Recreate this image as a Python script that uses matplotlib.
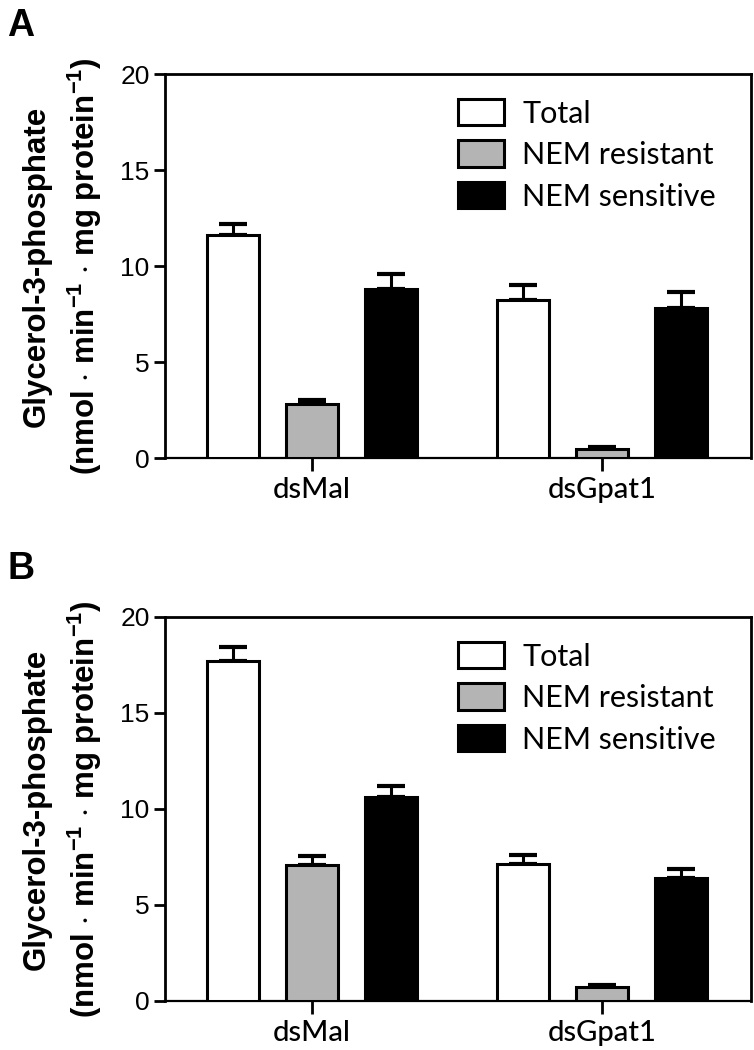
import matplotlib
matplotlib.use("Agg")
import matplotlib.pyplot as plt
import numpy as np

# datos
grupos = ['dsMal', 'dsGpat1']
series = ['Total', 'NEM resistant', 'NEM sensitive']
colores = ['white', '#b4b4b4', 'black']

# panel A
valA = [[11.6, 8.25],
        [2.8, 0.45],
        [8.8, 7.8]]
errA = [[0.6, 0.75],
        [0.2, 0.1],
        [0.8, 0.85]]
# panel B
valB = [[17.7, 7.15],
        [7.1, 0.75],
        [10.6, 6.4]]
errB = [[0.75, 0.45],
        [0.45, 0.08],
        [0.6, 0.45]]

yticks = [0, 5, 10, 15, 20]

plt.rcParams['font.family'] = 'Liberation Sans'
plt.rcParams['mathtext.default'] = 'regular'

W, H = 754, 1050
fig = plt.figure(figsize=(W/100, H/100), dpi=100)


def panel(top, bottom, vals, errs, letra):
    left, right = 165, 751
    ax = fig.add_axes([left/W, 1-bottom/H, (right-left)/W, (bottom-top)/H])
    x = np.arange(len(grupos))
    paso = 0.272
    ancho = 0.18
    for i, s in enumerate(series):
        xs = x + (i-1)*paso
        ax.bar(xs, vals[i], width=ancho, color=colores[i], edgecolor='black',
               linewidth=2.2, label=s, zorder=3)
        ax.errorbar(xs, vals[i], yerr=[np.zeros(len(grupos)), errs[i]],
                    fmt='none', ecolor='black', elinewidth=2.2, capsize=10,
                    capthick=3, zorder=2)
    ax.set_xlim(-0.507, 1.514)
    ax.set_ylim(0, 20)
    ax.set_yticks(yticks)
    ax.set_xticks(x)
    ax.set_xticklabels(grupos, fontsize=21, family='Lato', fontweight='medium')
    ax.tick_params(axis='y', labelsize=19, length=8, width=2, direction='out', pad=3)
    ax.tick_params(axis='x', length=9, width=2, direction='out', pad=5)
    for sp in ax.spines.values():
        sp.set_linewidth(2)
    ax.spines['bottom'].set_linewidth(1.6)
    ax.set_ylabel('Glycerol-3-phosphate\n'
                  r'(nmol $\cdot$ min$^{-1}$ $\cdot$ mg protein$^{-1}$)',
                  fontsize=22.5, fontweight='bold', linespacing=1.45, labelpad=12)
    ax.legend(loc='upper left', bbox_to_anchor=(0.5, 0.935), frameon=False,
              prop={'family': 'Lato', 'size': 22},
              handlelength=1.5, handleheight=0.95, handletextpad=0.6,
              labelspacing=0.42, borderpad=0, borderaxespad=0)
    fig.text(7/W, 1-(top-38)/H, letra, fontsize=27, fontweight='bold')
    return ax


panel(74, 458, valA, errA, 'A')
panel(617, 1001, valB, errB, 'B')

fig.savefig('out.png', dpi=100)
